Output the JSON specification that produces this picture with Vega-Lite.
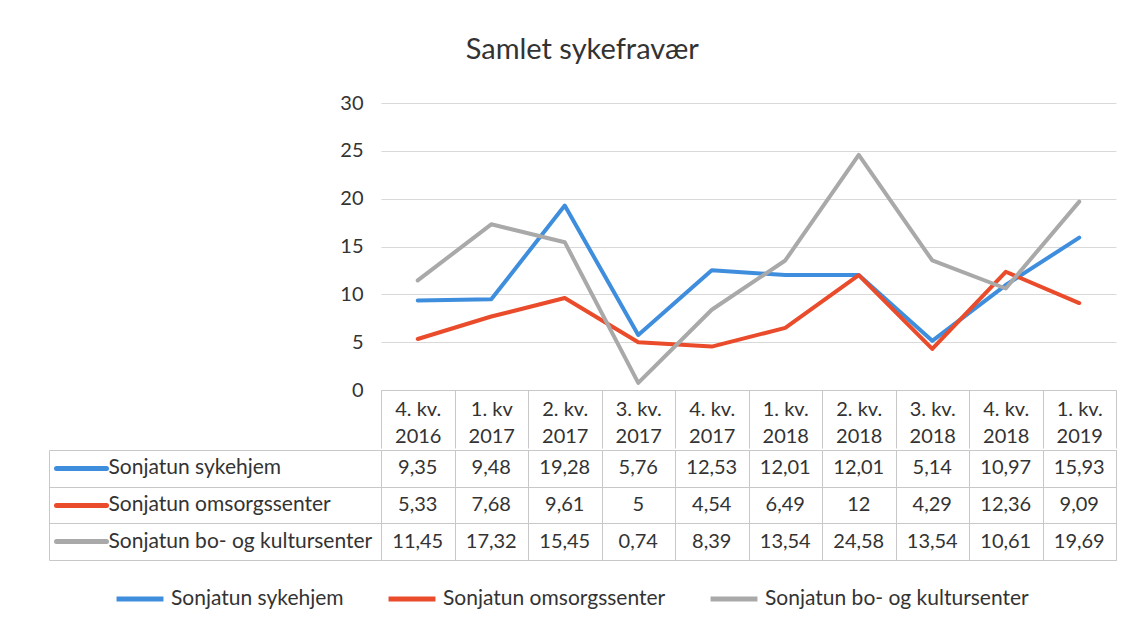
{
  "$schema": "https://vega.github.io/schema/vega-lite/v6.json",
  "padding": {"left": 48, "top": 36, "right": 8, "bottom": 8},
  "title": {"text": "Samlet sykefravær", "fontSize": 29, "fontWeight": "normal", "color": "#333333", "anchor": "middle", "offset": 28},
  "datasets": {
    "d": [
      {"quarter": "4. kv. 2016", "series": "Sonjatun sykehjem", "value": 9.35},
      {"quarter": "1. kv 2017", "series": "Sonjatun sykehjem", "value": 9.48},
      {"quarter": "2. kv. 2017", "series": "Sonjatun sykehjem", "value": 19.28},
      {"quarter": "3. kv. 2017", "series": "Sonjatun sykehjem", "value": 5.76},
      {"quarter": "4. kv. 2017", "series": "Sonjatun sykehjem", "value": 12.53},
      {"quarter": "1. kv. 2018", "series": "Sonjatun sykehjem", "value": 12.01},
      {"quarter": "2. kv. 2018", "series": "Sonjatun sykehjem", "value": 12.01},
      {"quarter": "3. kv. 2018", "series": "Sonjatun sykehjem", "value": 5.14},
      {"quarter": "4. kv. 2018", "series": "Sonjatun sykehjem", "value": 10.97},
      {"quarter": "1. kv. 2019", "series": "Sonjatun sykehjem", "value": 15.93},
      {"quarter": "4. kv. 2016", "series": "Sonjatun omsorgssenter", "value": 5.33},
      {"quarter": "1. kv 2017", "series": "Sonjatun omsorgssenter", "value": 7.68},
      {"quarter": "2. kv. 2017", "series": "Sonjatun omsorgssenter", "value": 9.61},
      {"quarter": "3. kv. 2017", "series": "Sonjatun omsorgssenter", "value": 5},
      {"quarter": "4. kv. 2017", "series": "Sonjatun omsorgssenter", "value": 4.54},
      {"quarter": "1. kv. 2018", "series": "Sonjatun omsorgssenter", "value": 6.49},
      {"quarter": "2. kv. 2018", "series": "Sonjatun omsorgssenter", "value": 12},
      {"quarter": "3. kv. 2018", "series": "Sonjatun omsorgssenter", "value": 4.29},
      {"quarter": "4. kv. 2018", "series": "Sonjatun omsorgssenter", "value": 12.36},
      {"quarter": "1. kv. 2019", "series": "Sonjatun omsorgssenter", "value": 9.09},
      {"quarter": "4. kv. 2016", "series": "Sonjatun bo- og kultursenter", "value": 11.45},
      {"quarter": "1. kv 2017", "series": "Sonjatun bo- og kultursenter", "value": 17.32},
      {"quarter": "2. kv. 2017", "series": "Sonjatun bo- og kultursenter", "value": 15.45},
      {"quarter": "3. kv. 2017", "series": "Sonjatun bo- og kultursenter", "value": 0.74},
      {"quarter": "4. kv. 2017", "series": "Sonjatun bo- og kultursenter", "value": 8.39},
      {"quarter": "1. kv. 2018", "series": "Sonjatun bo- og kultursenter", "value": 13.54},
      {"quarter": "2. kv. 2018", "series": "Sonjatun bo- og kultursenter", "value": 24.58},
      {"quarter": "3. kv. 2018", "series": "Sonjatun bo- og kultursenter", "value": 13.54},
      {"quarter": "4. kv. 2018", "series": "Sonjatun bo- og kultursenter", "value": 10.61},
      {"quarter": "1. kv. 2019", "series": "Sonjatun bo- og kultursenter", "value": 19.69}
    ]
  },
  "data": {"name": "d"},
  "spacing": 0,
  "vconcat": [
    {
      "width": 735,
      "height": 287,
      "view": {"stroke": null},
      "mark": {"type": "line", "strokeWidth": 4, "strokeCap": "round", "strokeJoin": "round"},
      "encoding": {
        "x": {
          "field": "quarter", "type": "nominal",
          "sort": ["4. kv. 2016", "1. kv 2017", "2. kv. 2017", "3. kv. 2017", "4. kv. 2017", "1. kv. 2018", "2. kv. 2018", "3. kv. 2018", "4. kv. 2018", "1. kv. 2019"],
          "bandPosition": 0.5,
          "scale": {"type": "band", "paddingInner": 0, "paddingOuter": 0},
          "axis": {
            "title": null,
            "labelExpr": "isString(datum.value) ? [slice(datum.value, 0, length(datum.value) - 5), slice(datum.value, length(datum.value) - 4)] : ''",
            "labelAngle": 0,
            "labelFontSize": 20,
            "labelColor": "#333333",
            "labelBaseline": "top",
            "labelLineHeight": 27,
            "labelPadding": -49,
            "tickBand": "extent",
            "tickSize": 58,
            "tickColor": "#c8c8c8",
            "domainColor": "#c8c8c8",
            "grid": false
          }
        },
        "y": {
          "field": "value", "type": "quantitative",
          "scale": {"domain": [0, 30]},
          "axis": {
            "title": null,
            "values": [0, 5, 10, 15, 20, 25, 30],
            "domain": false,
            "ticks": false,
            "grid": true,
            "gridColor": "#d9d9d9",
            "labelFontSize": 20,
            "labelColor": "#333333",
            "labelPadding": 18
          }
        },
        "color": {
          "field": "series", "type": "nominal",
          "scale": {
            "domain": ["Sonjatun sykehjem", "Sonjatun omsorgssenter", "Sonjatun bo- og kultursenter"],
            "range": ["#3f8ede", "#ea4b2a", "#a9a9a9"]
          },
          "legend": {
            "orient": "none",
            "legendX": -267,
            "legendY": 470,
            "direction": "horizontal",
            "title": null,
            "symbolType": "stroke",
            "symbolStrokeWidth": 5,
            "symbolSize": 2200,
            "labelFontSize": 21,
            "labelColor": "#333333",
            "labelOffset": 5,
            "labelLimit": 400,
            "columnPadding": 34
          }
        }
      }
    },
    {
      "width": 735,
      "height": 110,
      "view": {"stroke": "#c8c8c8"},
      "encoding": {
        "x": {
          "field": "quarter", "type": "nominal",
          "sort": ["4. kv. 2016", "1. kv 2017", "2. kv. 2017", "3. kv. 2017", "4. kv. 2017", "1. kv. 2018", "2. kv. 2018", "3. kv. 2018", "4. kv. 2018", "1. kv. 2019"],
          "scale": {"type": "band", "paddingInner": 0, "paddingOuter": 0},
          "axis": {"title": null, "labels": false, "ticks": false, "domain": false, "grid": true, "tickBand": "extent", "gridColor": "#c8c8c8"}
        }
      },
      "layer": [
        {
          "mark": {"type": "rect", "fillOpacity": 0},
          "encoding": {
            "y": {
              "field": "series", "type": "nominal",
              "sort": ["Sonjatun sykehjem", "Sonjatun omsorgssenter", "Sonjatun bo- og kultursenter"],
              "scale": {"type": "band", "paddingInner": 0, "paddingOuter": 0},
              "axis": {
                "orient": "left", "title": null, "labels": false,
                "domain": true, "domainColor": "#c8c8c8",
                "offset": 332, "tickSize": -332, "tickColor": "#c8c8c8",
                "tickBand": "extent", "grid": true, "gridColor": "#c8c8c8"
              }
            }
          }
        },
        {
          "mark": {"type": "text", "fontSize": 20, "color": "#333333"},
          "encoding": {
            "y": {
              "field": "series", "type": "nominal",
              "sort": ["Sonjatun sykehjem", "Sonjatun omsorgssenter", "Sonjatun bo- og kultursenter"],
              "scale": {"type": "band", "paddingInner": 0, "paddingOuter": 0},
              "axis": {
                "orient": "left", "title": null, "domain": false, "grid": false,
                "offset": 275, "tickSize": 50, "tickWidth": 5, "tickCap": "round",
                "tickColor": {
                  "condition": [
                    {"test": "datum.value === 'Sonjatun sykehjem'", "value": "#3f8ede"},
                    {"test": "datum.value === 'Sonjatun omsorgssenter'", "value": "#ea4b2a"}
                  ],
                  "value": "#a9a9a9"
                },
                "labelAlign": "left", "labelPadding": -52,
                "labelFontSize": 21, "labelColor": "#333333", "labelLimit": 0
              }
            },
            "text": {"field": "value", "type": "quantitative", "format": "~g"}
          }
        }
      ],
      "resolve": {"axis": {"y": "independent"}}
    }
  ],
  "config": {
    "font": "Lato",
    "locale": {"number": {"decimal": ",", "thousands": " ", "grouping": [3], "currency": ["", " kr"]}}
  }
}
